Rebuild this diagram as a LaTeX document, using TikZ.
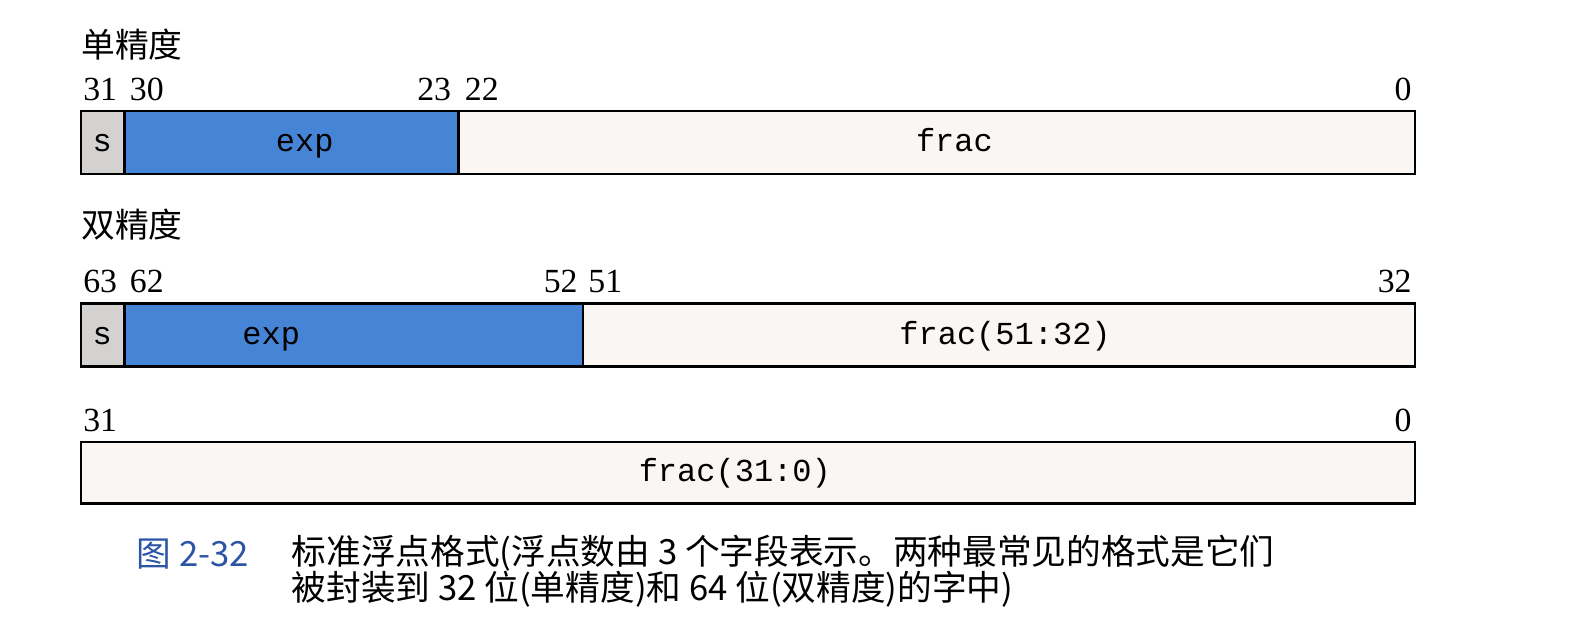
\documentclass[tikz,border=0pt]{standalone}
\usepackage{fontspec}
\setmainfont{Liberation Serif}
\setmonofont{Liberation Mono}
\newfontfamily\cjk{Noto Sans CJK SC}
\usetikzlibrary{positioning}
\definecolor{expblue}{RGB}{70,132,214}
\definecolor{fracpink}{RGB}{250,246,243}
\definecolor{signgray}{RGB}{212,210,208}
\definecolor{capblue}{RGB}{45,85,165}

\begin{document}
\begin{tikzpicture}[x=0.02cm,y=-0.02cm]
      \tikzset{field/.style={draw, line width=1.3pt, minimum height=1.24cm, inner sep=0pt, outer sep=0pt, anchor=west}};
      \tikzset{fname/.style={font=\fontsize{18}{20}\selectfont\ttfamily, inner sep=0pt, anchor=base}};
      \tikzset{bitnum/.style={font=\fontsize{19}{20}\selectfont, inner sep=0pt}};
      \tikzset{heading/.style={font=\fontsize{19}{20}\selectfont\cjk, inner sep=0pt, anchor=west}};
      \tikzset{caption/.style={font=\fontsize{19.5}{24}\selectfont\cjk, inner sep=0pt, anchor=west}};
      \useasboundingbox (0,0) rectangle (1566,612.6);

      % 单精度
      \node[heading] (single) at (80,44) {单精度};
      \node[field, fill=signgray, minimum width=0.86cm] (sS) at (80,141) {};
      \node[field, fill=expblue, minimum width=6.6cm] (expS) at (sS.east) {};
      \node[field, fill=fracpink, minimum width=18.9cm] (fracS) at (expS.east) {};
      \node[fname] (sSt) at (101,150) {s};
      \node[fname] (expSt) at (301,150) {exp};
      \node[fname] (fracSt) at (943,150) {frac};
      \node[bitnum, anchor=base west] (b31) at (82,99) {31};
      \node[bitnum, anchor=base west] (b30) at (128,99) {30};
      \node[bitnum, anchor=base east] (b23) at (446,99) {23};
      \node[bitnum, anchor=base west] (b22) at (459,99) {22};
      \node[bitnum, anchor=base east] (b0) at (1395,99) {0};

      % 双精度
      \node[heading] (double) at (80,222) {双精度};
      \node[field, fill=signgray, minimum width=0.86cm] (sD) at (80,331) {};
      \node[field, fill=expblue, minimum width=9.06cm] (expD) at (sD.east) {};
      \node[field, fill=fracpink, minimum width=16.44cm] (fracD) at (expD.east) {};
      \node[fname] (sDt) at (101,340) {s};
      \node[fname] (expDt) at (268,340) {exp};
      \node[fname] (fracDt) at (993,340) {frac(51:32)};
      \node[bitnum, anchor=base west] (b63) at (82,289) {63};
      \node[bitnum, anchor=base west] (b62) at (128,289) {62};
      \node[bitnum, anchor=base east] (b52) at (571,289) {52};
      \node[bitnum, anchor=base west] (b51) at (581,289) {51};
      \node[bitnum, anchor=base east] (b32) at (1395,289) {32};

      % 低位字
      \node[field, fill=fracpink, minimum width=26.36cm, minimum height=1.22cm] (fracL) at (80,467) {};
      \node[fname] (fracLt) at (726,476) {frac(31:0)};
      \node[bitnum, anchor=base west] (c31) at (82,426) {31};
      \node[bitnum, anchor=base east] (c0) at (1395,426) {0};

      % 图题
      \node[caption, text=capblue] (fig) at (135,547) {图 2-32};
      \node[caption] (cap1) at (288,547) {标准浮点格式(浮点数由 3 个字段表示。两种最常见的格式是它们};
      \node[caption] (cap2) at (288,582) {被封装到 32 位(单精度)和 64 位(双精度)的字中)};
\end{tikzpicture}
\end{document}
